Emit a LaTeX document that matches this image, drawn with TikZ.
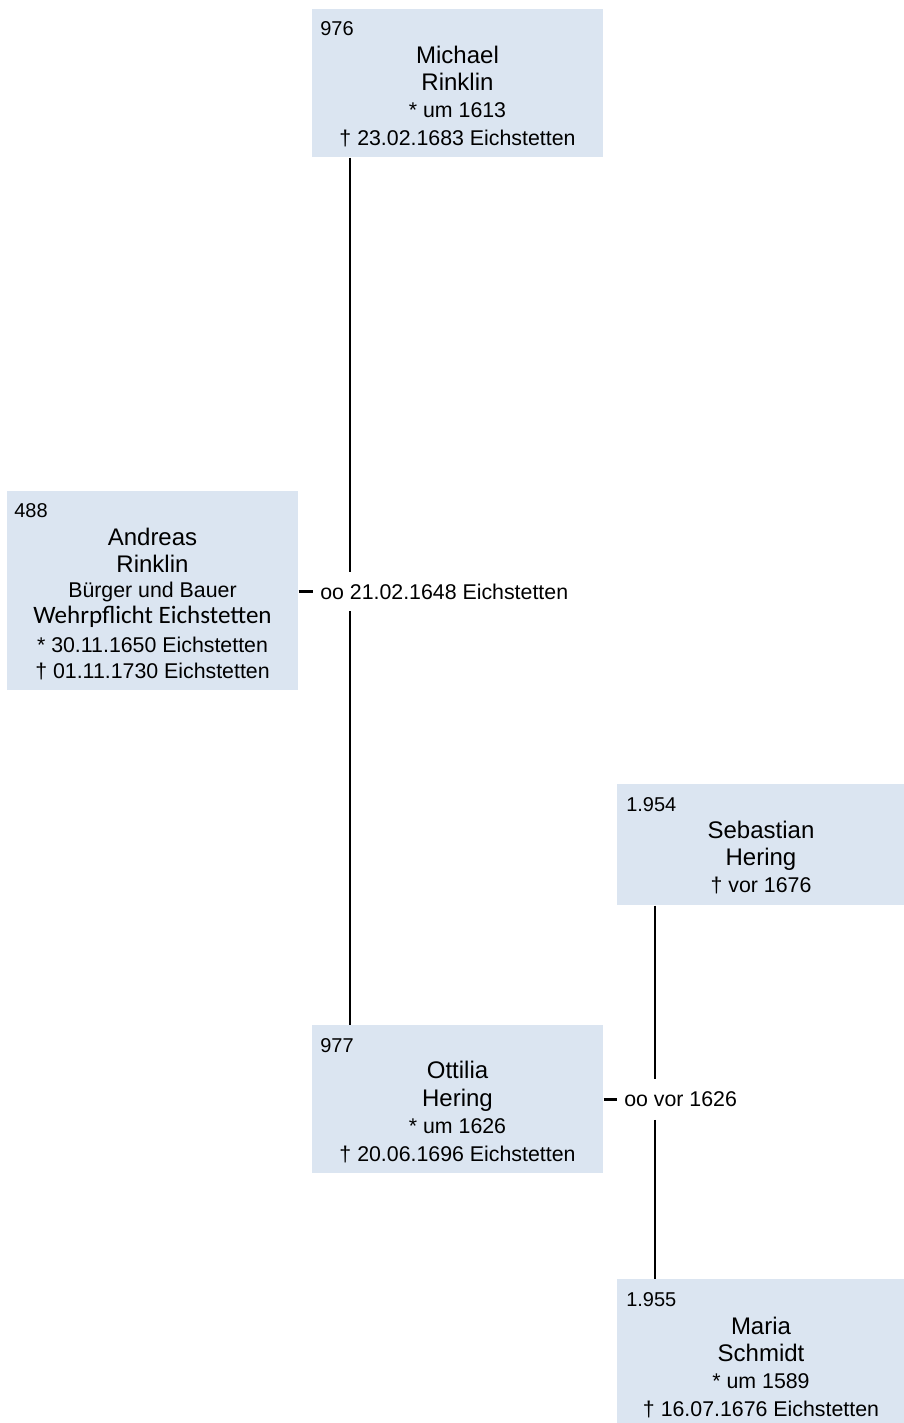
\documentclass[tikz,border=0pt]{standalone}
\usepackage{fontspec}
\setmainfont{Liberation Sans}
\newfontfamily\calib{Carlito}
\definecolor{boxfill}{RGB}{219,229,241}
\begin{document}
\begin{tikzpicture}[x=0.75pt,y=-0.75pt,
  person/.style={draw=none,fill=boxfill,anchor=north west,inner sep=0,
    minimum width=#1*0.75pt},
  num/.style={anchor=base west,inner sep=0,font=\fontsize{15}{18}\selectfont},
  pname/.style={anchor=base,inner sep=0,font=\fontsize{18}{21}\selectfont},
  pdate/.style={anchor=base,inner sep=0,font=\fontsize{16}{19}\selectfont},
  pjob/.style={anchor=base,inner sep=0,font=\calib\fontsize{18.8}{21}\selectfont},
  marr/.style={anchor=west,inner ysep=0,inner xsep=7*0.75pt,
    font=\fontsize{16}{19}\selectfont},
  link/.style={draw=black,line width=1.9pt}]
\useasboundingbox (0,0) rectangle (903,1423);

% boxes
\node[person=291,minimum height=148*0.75pt] (michael) at (312,9) {};
\node[person=291,minimum height=199*0.75pt] (andreas) at (7,491) {};
\node[person=288,minimum height=121*0.75pt] (sebastian) at (617,784) {};
\node[person=291,minimum height=148*0.75pt] (ottilia) at (312,1025) {};
\node[person=288,minimum height=146*0.75pt] (maria) at (617,1279) {};

% Michael
\node[num] (n976) at (320,36) {976};
\node[pname] (mi1) at (457.5,63.5) {Michael};
\node[pname] (mi2) at (457.5,90.5) {Rinklin};
\node[pdate] (mi3) at (457.5,117.5) {* um 1613};
\node[pdate] (mi4) at (457.5,146) {† 23.02.1683 Eichstetten};

% Andreas
\node[num] (n488) at (14,517) {488};
\node[pname] (an1) at (152.5,545) {Andreas};
\node[pname] (an2) at (152.5,572) {Rinklin};
\node[pdate] (an3) at (152.5,597) {Bürger und Bauer};
\node[pjob] (an4) at (152.5,623) {Wehrpflicht Eichstetten};
\node[pdate] (an5) at (152.5,652) {* 30.11.1650 Eichstetten};
\node[pdate] (an6) at (152.5,678) {† 01.11.1730 Eichstetten};

% Sebastian
\node[num] (n1954) at (626,811) {1.954};
\node[pname] (se1) at (761,838) {Sebastian};
\node[pname] (se2) at (761,865) {Hering};
\node[pdate] (se3) at (761,892) {† vor 1676};

% Ottilia
\node[num] (n977) at (320,1052) {977};
\node[pname] (ot1) at (457.5,1078) {Ottilia};
\node[pname] (ot2) at (457.5,1106) {Hering};
\node[pdate] (ot3) at (457.5,1133) {* um 1626};
\node[pdate] (ot4) at (457.5,1161) {† 20.06.1696 Eichstetten};

% Maria
\node[num] (n1955) at (626,1306) {1.955};
\node[pname] (ma1) at (761,1334) {Maria};
\node[pname] (ma2) at (761,1361) {Schmidt};
\node[pdate] (ma3) at (761,1388) {* um 1589};
\node[pdate] (ma4) at (761,1416) {† 16.07.1676 Eichstetten};

% marriages
\node[marr,minimum height=39*0.75pt] (m1) at (313,591.5) {oo 21.02.1648 Eichstetten};
\node[marr,minimum height=40*0.75pt] (m2) at (617,1099.5) {oo vor 1626};

\coordinate (v1) at (350,0);
\coordinate (v2) at (655,0);

\draw[link] (michael.south -| v1) -- (m1.north -| v1);
\draw[link] (m1.south -| v1) -- (ottilia.north -| v1);
\draw[link] (andreas.east |- m1) -- (m1.west);

\draw[link] (sebastian.south -| v2) -- (m2.north -| v2);
\draw[link] (m2.south -| v2) -- (maria.north -| v2);
\draw[link] (ottilia.east |- m2) -- (m2.west);
\end{tikzpicture}
\end{document}
